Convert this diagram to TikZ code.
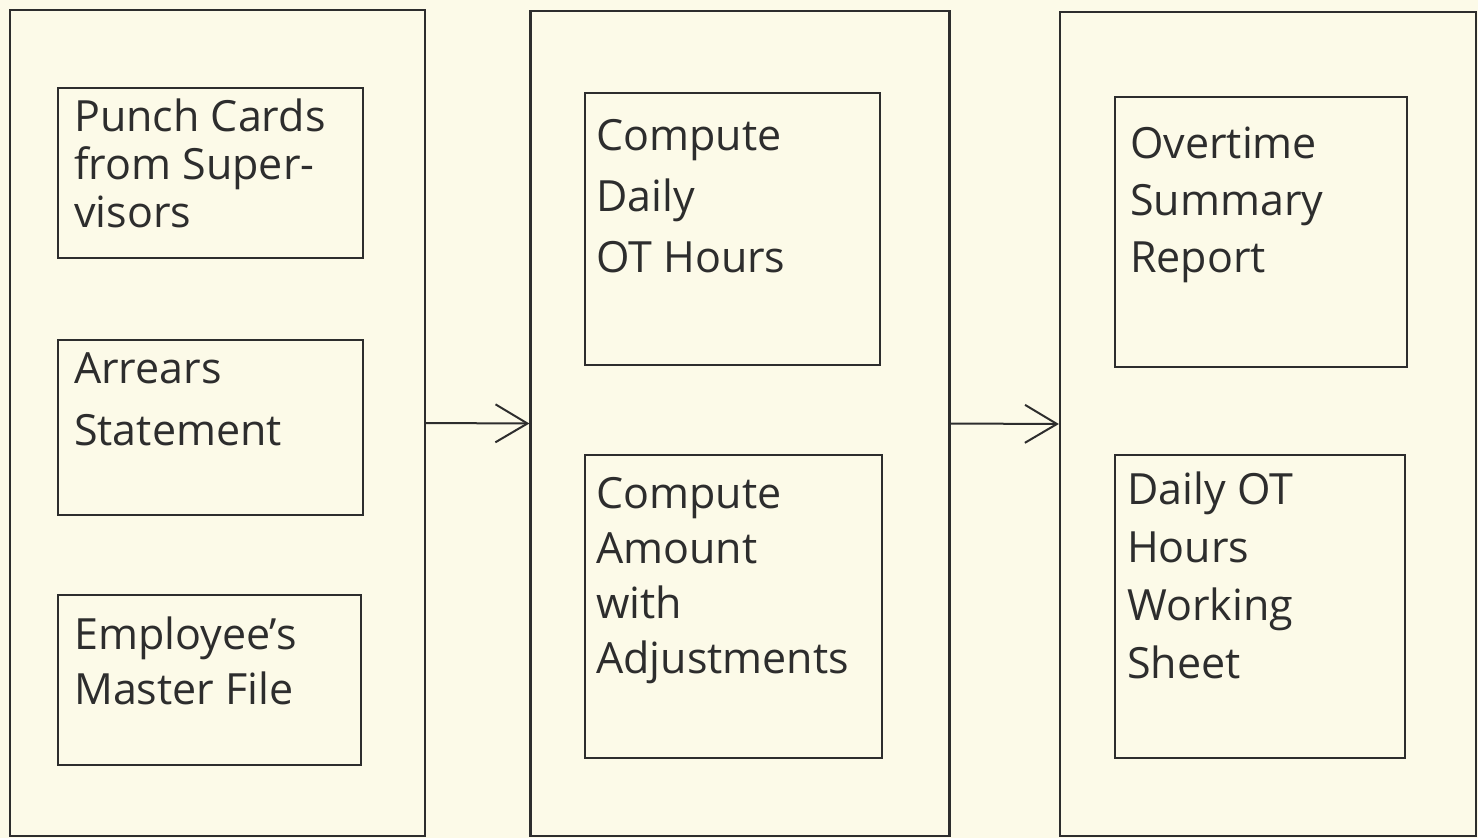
\documentclass[tikz,border=0pt]{standalone}
\usepackage{fontspec}
\setmainfont{Open Sans}
\usetikzlibrary{arrows.meta}
\definecolor{paper}{RGB}{252,250,232}
\definecolor{ink}{RGB}{45,45,45}
\tikzset{
  panel/.style={draw=ink, line width=2.2pt, fill=none, inner sep=0pt},
  inbox/.style={draw=ink, line width=2.2pt, fill=none, inner sep=0pt},
  lbl/.style={text=ink, inner sep=0pt, anchor=north west, align=left},
  flow/.style={draw=ink, line width=2pt, -{Straight Barb[length=32pt,width=38pt,line width=2pt]}}
}
\newcommand{\lblfont}[1]{\fontsize{43}{#1}\selectfont}
\begin{document}
\begin{tikzpicture}[x=1pt,y=-1pt]
  \fill[paper] (0,0) rectangle (1478,838);
  \useasboundingbox (0,0) rectangle (1478,838);

  % three stage panels
  \node[panel, minimum width=415, minimum height=826] (inp)  at (217.5,423) {};
  \node[panel, minimum width=419, minimum height=825] (proc) at (740,423.5) {};
  \node[panel, minimum width=416, minimum height=824] (outp) at (1268,424) {};

  % input documents
  \node[inbox, minimum width=305, minimum height=170] (cards)   at (210.5,173) {};
  \node[inbox, minimum width=305, minimum height=175] (arrears) at (210.5,427.5) {};
  \node[inbox, minimum width=303, minimum height=170] (master)  at (209.5,680) {};

  % processing steps
  \node[inbox, minimum width=295, minimum height=272] (daily)  at (732.5,229) {};
  \node[inbox, minimum width=297, minimum height=303] (amount) at (733.5,606.5) {};

  % outputs
  \node[inbox, minimum width=292, minimum height=270] (summary) at (1261,232) {};
  \node[inbox, minimum width=290, minimum height=303] (sheet)   at (1260,606.5) {};

  % labels
  \node[lbl, font=\lblfont{48}] (t1) at (74,99) {Punch Cards\\from Super-\\visors};
  \node[lbl, font=\lblfont{62}] (t2) at (74,352) {Arrears\\Statement};
  \node[lbl, font=\lblfont{55}] (t3) at (74,617) {Employee's\\Master File};
  \node[lbl, font=\lblfont{61}] (t4) at (596,119) {Compute\\Daily\\OT Hours};
  \node[lbl, font=\lblfont{55}] (t5) at (596,477) {Compute\\Amount\\with\\Adjustments};
  \node[lbl, font=\lblfont{57}] (t6) at (1130,127) {Overtime\\Summary\\Report};
  \node[lbl, font=\lblfont{58}] (t7) at (1127,472) {Daily OT\\Hours\\Working\\Sheet};

  % flow between stages
  \draw[flow] (inp.east) -- (proc.west);
  \draw[flow] (proc.east) -- (outp.west);
\end{tikzpicture}
\end{document}
